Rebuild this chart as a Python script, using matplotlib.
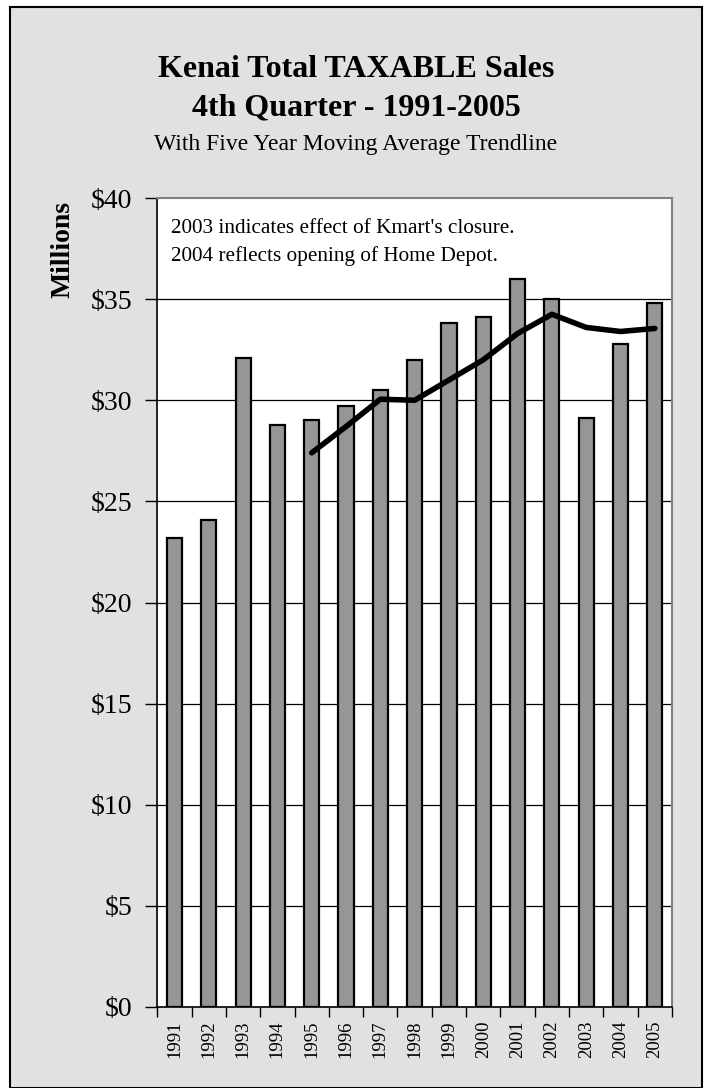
import matplotlib.pyplot as plt
import numpy as np
from matplotlib.patches import Rectangle

years = ["1991", "1992", "1993", "1994", "1995", "1996", "1997", "1998",
         "1999", "2000", "2001", "2002", "2003", "2004", "2005"]
sales = [23.2, 24.1, 32.1, 28.8, 29.0, 29.7, 30.5, 32.0,
         33.8, 34.1, 36.0, 35.0, 29.1, 32.8, 34.8]
trend_years = ["1995", "1996", "1997", "1998", "1999", "2000",
               "2001", "2002", "2003", "2004", "2005"]
trend = [27.4, 28.7, 30.05, 30.0, 31.0, 32.0, 33.3, 34.25, 33.6, 33.4, 33.55]
yticks = [0, 5, 10, 15, 20, 25, 30, 35, 40]

plt.rcParams["font.family"] = ["Liberation Serif", "DejaVu Serif"]

fig = plt.figure(figsize=(7.09, 10.88), dpi=100)
fig.patch.set_facecolor("white")
bg = Rectangle((10 / 709, 0), 692 / 709, 1 - 7 / 1088, transform=fig.transFigure,
               facecolor="#e1e1e1", edgecolor="black", linewidth=1.5, zorder=-10)
fig.patches.append(bg)

ax = fig.add_axes([157.3 / 709, 1 - 1007 / 1088, (672 - 157.3) / 709, (1007 - 198) / 1088])
ax.set_facecolor("white")

x = np.arange(len(years))
ax.bar(x, sales, width=0.44, color="#969696", edgecolor="black", linewidth=1.6, zorder=3)

tx = [years.index(y) for y in trend_years]
ax.plot(tx, trend, color="black", linewidth=4, solid_joinstyle="round",
        solid_capstyle="round", zorder=4)

ax.set_xlim(-0.5, len(years) - 0.5)
ax.set_ylim(0, 40)
ax.set_yticks(yticks)
ax.set_yticklabels(["$" + str(v) for v in yticks], fontsize=20)
for v in yticks[1:-1]:
    ax.axhline(v, color="black", linewidth=0.9, zorder=1)

ax.set_xticks(x)
ax.set_xticklabels(years, rotation=90, fontsize=13.5)
ax.set_xticks(np.arange(len(years) + 1) - 0.5, minor=True)
ax.tick_params(axis="x", which="major", length=0, pad=10)
ax.tick_params(axis="x", which="minor", length=7, width=1, direction="out")
ax.tick_params(axis="y", length=9, width=1, direction="out", pad=9)

for side in ["top", "right"]:
    ax.spines[side].set_color("#808080")
    ax.spines[side].set_linewidth(1.5)
ax.spines["left"].set_color("black")
ax.spines["bottom"].set_color("black")
ax.spines["left"].set_linewidth(1.2)
ax.spines["bottom"].set_linewidth(1.2)

ax.text(0.027, 0.9567, "2003 indicates effect of Kmart's closure.", transform=ax.transAxes,
        fontsize=15.3, va="baseline", ha="left")
ax.text(0.027, 0.922, "2004 reflects opening of Home Depot.", transform=ax.transAxes,
        fontsize=15.3, va="baseline", ha="left")

fig.text(63 / 709, 1 - 250 / 1088, "Millions", rotation=90, fontsize=20, fontweight="bold",
         ha="center", va="center")

fig.text(356 / 709, 1 - 77 / 1088, "Kenai Total TAXABLE Sales", fontsize=23,
         fontweight="bold", ha="center", va="baseline")
fig.text(356 / 709, 1 - 115 / 1088, "4th Quarter - 1991-2005", fontsize=23,
         fontweight="bold", ha="center", va="baseline")
fig.text(356 / 709, 1 - 150 / 1088, "With Five Year Moving Average Trendline", fontsize=17,
         ha="center", va="baseline")

fig.savefig("out.png", dpi=100)
